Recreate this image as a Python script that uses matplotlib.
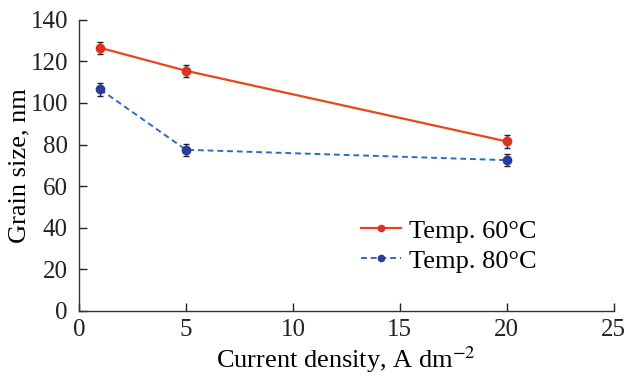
import matplotlib
matplotlib.use("Agg")
import matplotlib.pyplot as plt
from matplotlib.lines import Line2D

current_density = [1, 5, 20]
grain_60 = [126.5, 115.5, 81.5]
err_60 = [3, 3, 3]
grain_80 = [106.5, 77.5, 72.5]
err_80 = [3, 3, 3]
x_ticks = [0, 5, 10, 15, 20, 25]
y_ticks = [0, 20, 40, 60, 80, 100, 120, 140]
labels = ['Temp. 60°C', 'Temp. 80°C']

plt.rcParams['font.family'] = ['Liberation Serif', 'DejaVu Serif']
plt.rcParams['mathtext.fontset'] = 'stix'

red_line, red_mk = '#E8461C', '#E0301E'
blue_line, blue_mk = '#2A6CC4', '#2B3A9C'

fig = plt.figure(figsize=(6.29, 3.81), dpi=100)
ax = fig.add_axes([0.1256, 0.184, 0.850, 0.764])

ax.errorbar(current_density, grain_60, yerr=err_60, color=red_line, lw=1.6,
            marker='o', ms=6, mfc=red_mk, mec=red_mk,
            ecolor='#222222', elinewidth=1.0, capsize=2.5, capthick=1.0, zorder=3)
ax.errorbar(current_density, grain_80, yerr=err_80, color=blue_line, lw=1.4,
            ls=(0, (3, 2)), marker='o', ms=6, mfc=blue_mk, mec=blue_mk,
            ecolor='#222222', elinewidth=1.0, capsize=2.5, capthick=1.0, zorder=3)

ax.set_xlim(0, 25)
ax.set_ylim(0, 140)
ax.set_xticks(x_ticks)
ax.set_yticks(y_ticks)
ax.spines['top'].set_visible(False)
ax.spines['right'].set_visible(False)
for s in ('left', 'bottom'):
    ax.spines[s].set_color('#333333')
    ax.spines[s].set_linewidth(1.0)
ax.tick_params(direction='in', length=6, width=1, colors='#222222', labelsize=18)
ax.tick_params(axis='x', pad=6)
ax.tick_params(axis='y', pad=8)
ax.set_xlabel('Current density, A dm$^{-2}$', fontsize=19, labelpad=2)
ax.set_ylabel('Grain size, nm', fontsize=19, labelpad=0)

handles = [
    Line2D([], [], color=red_line, lw=1.6, marker='o', ms=4.5, mfc=red_mk, mec=red_mk),
    Line2D([], [], color=blue_line, lw=1.4, ls=(0, (3, 2)), marker='o', ms=4.5,
           mfc=blue_mk, mec=blue_mk),
]
ax.legend(handles, labels, loc='lower right', bbox_to_anchor=(0.89, 0.068), frameon=False,
          fontsize=19, handlelength=1.5, handletextpad=0.3, labelspacing=0.25,
          borderpad=0.2)

fig.savefig('out.png', dpi=100)
